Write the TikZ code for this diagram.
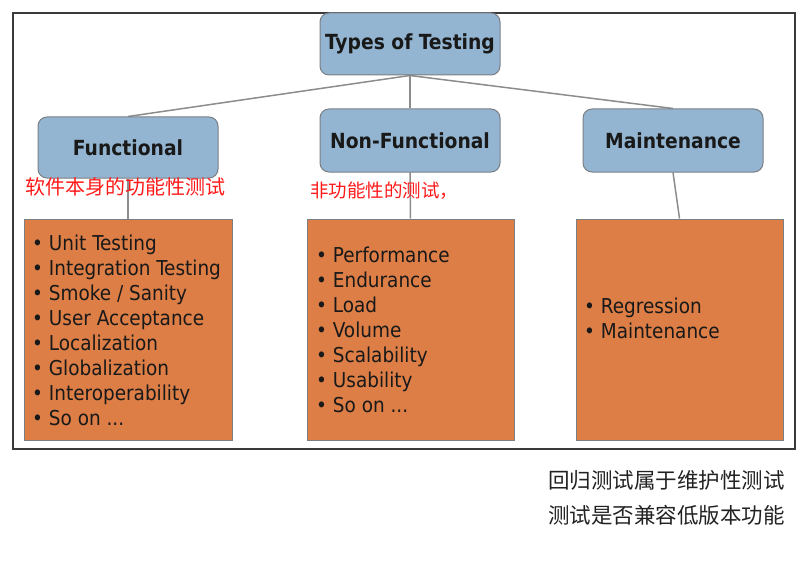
\documentclass[tikz,border=0pt]{standalone}
\usepackage{fontspec}
\setmainfont{DejaVu Sans Condensed}
\newfontfamily\cjk{Noto Sans CJK SC}
\usetikzlibrary{positioning, backgrounds}

\definecolor{headblue}{HTML}{93B5D1}
\definecolor{listorange}{HTML}{DC7E46}
\definecolor{boxedge}{HTML}{7A7F85}
\definecolor{linkgray}{HTML}{8C8C8C}
\definecolor{framegray}{HTML}{3A3A3A}
\definecolor{notered}{HTML}{FF1A1A}
\definecolor{notegray}{HTML}{222222}

\begin{document}
\begin{tikzpicture}[x=1pt, y=-1pt,
    % Define styles
    rootbox/.style={rectangle, draw=boxedge, line width=1pt, fill=headblue, rounded corners=9pt, minimum width=180pt, minimum height=62pt, align=center, text=black!90, font=\bfseries\fontsize{20.8}{24}\selectfont},
    listbox/.style={rectangle, draw=boxedge, line width=1pt, fill=listorange, minimum width=207pt, minimum height=221pt, inner sep=0pt},
    listtext/.style={anchor=west, align=left, inner sep=0pt, text=black!90, font=\fontsize{20.5}{25}\selectfont},
    note/.style={anchor=west, inner sep=0pt, text=notered, font=\cjk\fontsize{20}{24}\selectfont},
    link/.style={draw=linkgray, line width=1.5pt}
]
    \useasboundingbox (0,0) rectangle (810,564);

    % 1. Outer frame
    \draw[framegray, line width=2pt] (13,13) rectangle (795,449);

    % 2. Root and the three kinds
    \node[rootbox] (root) at (410,44) {Types of Testing};
    \node[rootbox, minimum height=61pt] (func) at (128,147.5) {Functional};
    \node[rootbox, minimum height=63pt] (nonf) at (410,140.5) {Non-Functional};
    \node[rootbox, minimum height=63pt] (maint) at (673,140.5) {Maintenance};

    % 3. Lists of tests
    \node[listbox, minimum width=208pt] (flist) at (128,329.5) {};
    \node[listbox] (nlist) at (410.5,329.5) {};
    \node[listbox] (mlist) at (679.5,329.5) {};

    \node[listtext] (ftext) at (32,330.5) {• Unit Testing\\• Integration Testing\\• Smoke / Sanity\\• User Acceptance\\• Localization\\• Globalization\\• Interoperability\\• So on ...};
    \node[listtext] (ntext) at (316,330) {• Performance\\• Endurance\\• Load\\• Volume\\• Scalability\\• Usability\\• So on ...};
    \node[listtext] (mtext) at (584,318) {• Regression\\• Maintenance};

    % 4. Connections
    \begin{scope}[on background layer]
        \draw[link] (root.south) -- (func.north);
        \draw[link] (root.south) -- (nonf.north);
        \draw[link] (root.south) -- (maint.north);
        \draw[link] (func.south) -- (flist.north);
        \draw[link] (nonf.south) -- (nlist.north);
        \draw[link] (maint.south) -- (mlist.north);
    \end{scope}

    % 5. Notes
    \node[note] (funcnote) at (25,187) {软件本身的功能性测试};
    \node[note, font=\cjk\fontsize{18.5}{22}\selectfont] (nonfnote) at (310,191) {非功能性的测试，};
    \node[note, text=notegray, font=\cjk\fontsize{21.5}{35}\selectfont, align=left, anchor=north west] (regnote) at (548,470) {回归测试属于维护性测试\\测试是否兼容低版本功能};

\end{tikzpicture}
\end{document}
